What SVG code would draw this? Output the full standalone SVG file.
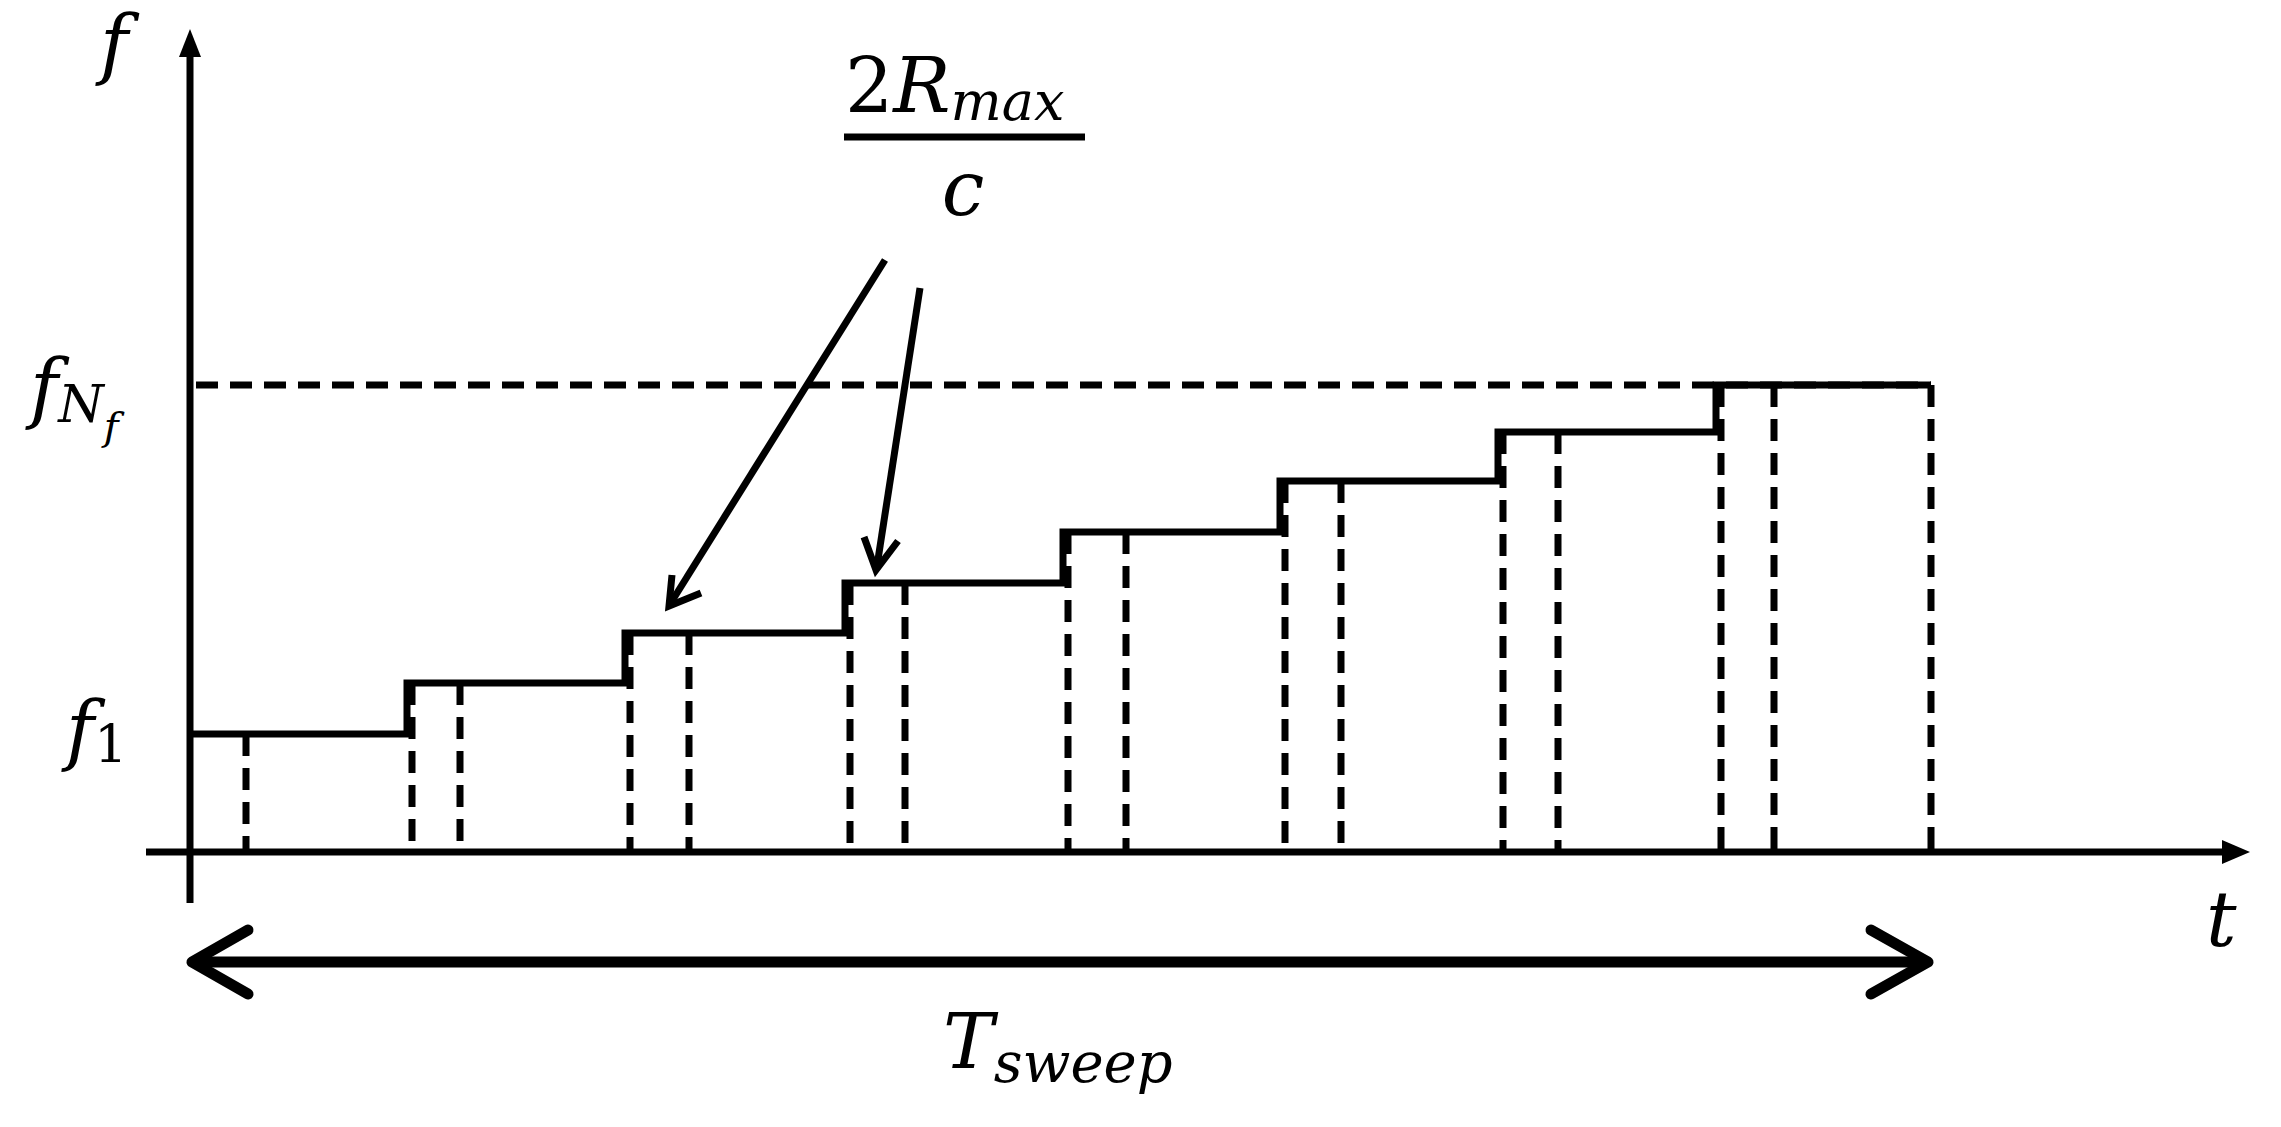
<svg xmlns="http://www.w3.org/2000/svg" width="2281" height="1127" viewBox="0 0 2281 1127">
<style>
.s{stroke:#000;stroke-width:7;fill:none}
.d{stroke:#000;stroke-width:7;fill:none;stroke-dasharray:22 12}
.t{font-family:"DejaVu Serif","Liberation Serif",serif;font-style:italic;fill:#000}
</style>
<rect width="2281" height="1127" fill="#fff"/>
<g id="axes">
<line class="s" x1="190" y1="903" x2="190" y2="55"/>
<path d="M179,57 L190,29 L201,57 Z" fill="#000"/>
<line class="s" x1="146" y1="852" x2="2225" y2="852"/>
<path d="M2222,840 L2250,852 L2222,864 Z" fill="#000"/>
</g>
<g id="fmax-line"><line class="d" x1="196" y1="385" x2="1931" y2="385"/></g>
<g id="staircase">
<path class="s" d="M190,734 H407 V683 H625 V633 H845 V583 H1063 V532 H1280 V481 H1498 V432 H1716 V385 H1931"/>
</g>
<g id="dashes">
<path class="d" d="M246,734 V852 M412,683 V852 M460,683 V852 M630,633 V852 M689,633 V852 M850,583 V852 M905,583 V852 M1068,532 V852 M1126,532 V852 M1285,481 V852 M1341,481 V852 M1503,432 V852 M1558,432 V852 M1721,385 V852 M1774,385 V852 M1931,385 V852"/>
</g>
<g id="connectors">
<line class="s" x1="885" y1="260" x2="672" y2="601"/>
<path class="s" d="M672,575 L669,606 L701,593"/>
<line class="s" x1="920" y1="288" x2="877" y2="566"/>
<path class="s" d="M864,537 L876,570 L898,541"/>
<line x1="195" y1="962" x2="1925" y2="962" stroke="#000" stroke-width="11"/>
<path d="M248,930 L192,962 L248,994" fill="none" stroke="#000" stroke-width="11" stroke-linecap="round" stroke-linejoin="round"/>
<path d="M1871,930 L1928,962 L1871,994" fill="none" stroke="#000" stroke-width="11" stroke-linecap="round" stroke-linejoin="round"/>
</g>
<g id="labels">
<text class="t" x="100" y="70" font-size="76">f</text>
<text class="t" x="30" y="414" font-size="76">f<tspan font-size="52" dy="8">N</tspan><tspan font-size="40" dy="18">f</tspan></text>
<text class="t" x="66" y="756" font-size="76">f<tspan font-size="52" font-style="normal" dy="6">1</tspan></text>
<text class="t" x="845" y="112" font-size="76" style="font-style:normal">2<tspan font-style="italic">R</tspan><tspan font-style="italic" font-size="54" dy="8">max</tspan></text>
<line class="s" x1="844" y1="137" x2="1085" y2="137"/>
<text class="t" x="963" y="215" font-size="76" text-anchor="middle">c</text>
<text class="t" x="2206" y="946" font-size="76">t</text>
<text class="t" x="943" y="1068" font-size="76">T<tspan font-size="56" dy="14">sweep</tspan></text>
</g>
</svg>
